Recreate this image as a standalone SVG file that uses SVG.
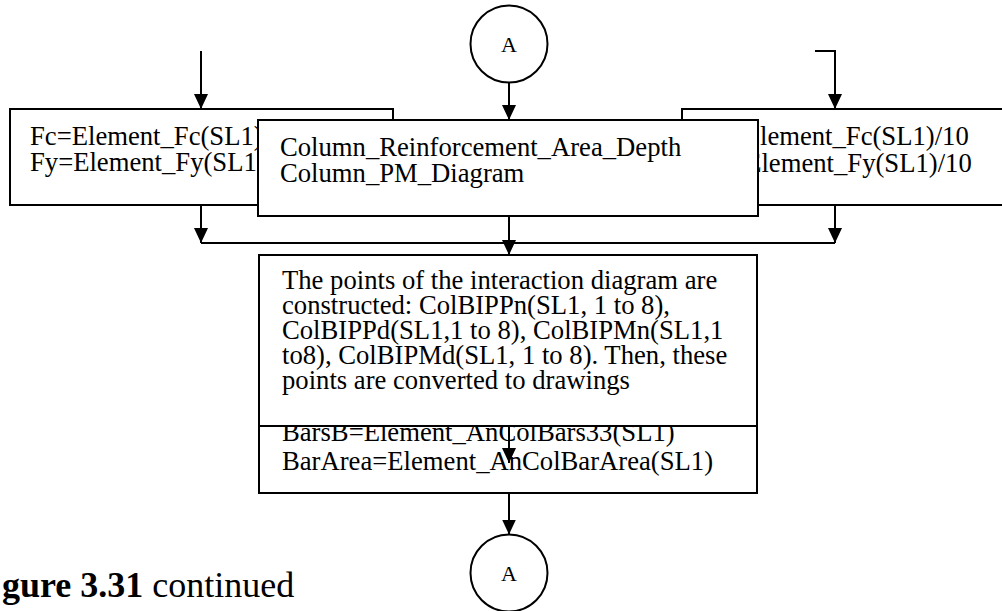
<svg xmlns="http://www.w3.org/2000/svg" width="1002" height="611" viewBox="0 0 1002 611">
<style>
.box{fill:#fff;stroke:#000;stroke-width:2}
.t{font-family:"Liberation Serif","Times New Roman",serif;font-size:26.67px;fill:#000}
.c{fill:#fff;stroke:#000;stroke-width:2}
.ct{font-family:"Liberation Serif","Times New Roman",serif;font-size:22px;fill:#000;text-anchor:middle}
.ln{fill:none;stroke:#000;stroke-width:2}
</style>
<defs>
<marker id="ah" markerUnits="userSpaceOnUse" markerWidth="15" markerHeight="14" refX="15" refY="7" orient="auto">
<path d="M0,0 L15,7 L0,14 z" fill="#000"/>
</marker>
</defs>
<rect width="1002" height="611" fill="#fff"/>
<g id="circleTop">
<circle class="c" cx="509" cy="44" r="38.5"/>
<text class="ct" x="509" y="51.5">A</text>
</g>
<g id="boxLeft">
<rect class="box" x="10" y="109" width="383" height="96"/>
<text class="t" x="30" y="145">Fc=Element_Fc(SL1)</text>
<text class="t" x="30" y="171">Fy=Element_Fy(SL1)</text>
</g>
<g id="boxRight">
<rect class="box" x="682" y="109" width="330" height="96"/>
<text class="t" x="702" y="145">Fc=Element_Fc(SL1)/10</text>
<text class="t" x="702" y="172">Fy=Element_Fy(SL1)/10</text>
</g>
<g id="boxMiddle">
<rect class="box" x="258" y="120" width="500" height="96"/>
<text class="t" x="280" y="156">Column_Reinforcement_Area_Depth</text>
<text class="t" x="280" y="182">Column_PM_Diagram</text>
</g>
<g id="boxBars">
<rect class="box" x="259" y="380" width="498" height="113"/>
<text class="t" x="282" y="441">BarsB=Element_AnColBars33(SL1)</text>
<text class="t" x="282" y="470">BarArea=Element_AnColBarArea(SL1)</text>
</g>
<g id="boxPoints">
<rect class="box" x="259" y="255" width="498" height="171"/>
<text class="t" x="282" y="289">The points of the interaction diagram are</text>
<text class="t" x="282" y="314">constructed: ColBIPPn(SL1, 1 to 8),</text>
<text class="t" x="282" y="339">ColBIPPd(SL1,1 to 8), ColBIPMn(SL1,1</text>
<text class="t" x="282" y="364">to8), ColBIPMd(SL1, 1 to 8). Then, these</text>
<text class="t" x="282" y="389">points are converted to drawings</text>
</g>
<g id="circleBottom">
<circle class="c" cx="509" cy="573" r="38.5"/>
<text class="ct" x="509" y="580.5">A</text>
</g>
<g id="caption">
<text x="2" y="597" style="font-family:'Liberation Serif','Times New Roman',serif;font-size:36px;fill:#000"><tspan font-weight="bold">gure 3.31</tspan> continued</text>
</g>
<g id="connectors">
<path class="ln" d="M201,51 V109" marker-end="url(#ah)"/>
<path class="ln" d="M815,51 H835 V109" marker-end="url(#ah)"/>
<path class="ln" d="M509,82.5 V120" marker-end="url(#ah)"/>
<path class="ln" d="M201,205 V243" marker-end="url(#ah)"/>
<path class="ln" d="M835,205 V243" marker-end="url(#ah)"/>
<path class="ln" d="M201,243 H835"/>
<path class="ln" d="M509,216 V255" marker-end="url(#ah)"/>
<path class="ln" d="M509,427 V463" marker-end="url(#ah)"/>
<path class="ln" d="M509,493 V534.5" marker-end="url(#ah)"/>
</g>
</svg>
